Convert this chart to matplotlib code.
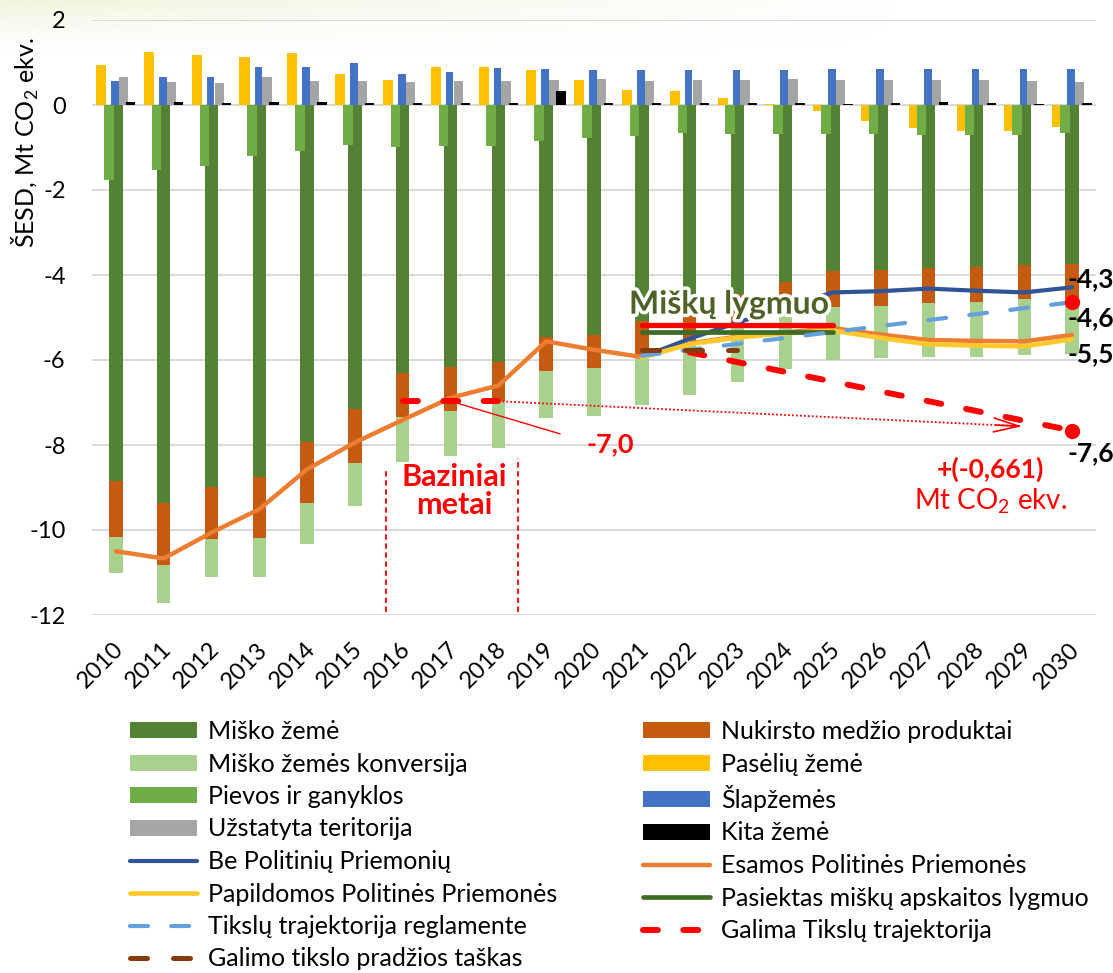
import numpy as np
import matplotlib
matplotlib.use("Agg")
import matplotlib.pyplot as plt
import matplotlib.patheffects as pe
from matplotlib.transforms import ScaledTranslation

plt.rcParams['font.family'] = ['Lato', 'DejaVu Sans']
plt.rcParams['mathtext.fontset'] = 'custom'
plt.rcParams['mathtext.rm'] = 'Lato'
plt.rcParams['mathtext.bf'] = 'Lato:bold'

# ---- data, Mt CO2 ekv. ----
years = list(range(2010, 2031))

# stacked negative columns
misko_zeme = [-8.84, -9.37, -8.98, -8.76, -7.92, -7.15, -6.31, -6.17, -6.05, -5.46, -5.40,
              -5.08, -4.95, -4.45, -4.17, -3.90, -3.88, -3.84, -3.82, -3.76, -3.73]
nukirsto = [-1.32, -1.46, -1.22, -1.42, -1.44, -1.28, -1.04, -1.04, -0.92, -0.81, -0.79,
            -0.86, -0.60, -0.75, -0.73, -0.86, -0.84, -0.83, -0.81, -0.81, -0.84]
konversija = [-0.86, -0.88, -0.90, -0.92, -0.96, -1.00, -1.04, -1.06, -1.10, -1.10, -1.12,
              -1.13, -1.27, -1.31, -1.31, -1.23, -1.24, -1.27, -1.29, -1.32, -1.28]

# single columns
paseliu = [0.94, 1.24, 1.18, 1.14, 1.23, 0.74, 0.59, 0.90, 0.89, 0.83, 0.59,
           0.36, 0.34, 0.17, 0.02, -0.15, -0.38, -0.55, -0.62, -0.62, -0.51]
pievos = [-1.76, -1.54, -1.44, -1.20, -1.09, -0.94, -0.98, -0.96, -0.96, -0.85, -0.78,
          -0.73, -0.67, -0.68, -0.68, -0.68, -0.69, -0.71, -0.70, -0.71, -0.65]
slapzemes = [0.57, 0.66, 0.66, 0.90, 0.89, 0.98, 0.74, 0.77, 0.88, 0.84, 0.83,
             0.83, 0.83, 0.83, 0.83, 0.84, 0.84, 0.84, 0.84, 0.84, 0.85]
uzstatyta = [0.65, 0.54, 0.52, 0.67, 0.57, 0.57, 0.53, 0.56, 0.56, 0.60, 0.61,
             0.57, 0.59, 0.60, 0.62, 0.60, 0.60, 0.60, 0.60, 0.57, 0.53]
kita = [0.06, 0.06, 0.05, 0.06, 0.06, 0.04, 0.04, 0.05, 0.04, 0.34, 0.04,
        0.04, 0.04, 0.04, 0.04, 0.03, 0.04, 0.07, 0.04, 0.03, 0.04]

# lines
esamos = [-10.50, -10.67, -10.06, -9.51, -8.57, -7.94, -7.41, -6.89, -6.60, -5.56, -5.76,
          -5.93, -5.61, -5.45, -5.35, -5.25, -5.40, -5.53, -5.55, -5.56, -5.41]
proj_years = [2021, 2022, 2023, 2024, 2025, 2026, 2027, 2028, 2029, 2030]
be_politiniu = [-5.93, -5.50, -5.12, -4.76, -4.41, -4.38, -4.32, -4.37, -4.41, -4.29]
papildomos = [-5.94, -5.63, -5.47, -5.37, -5.31, -5.48, -5.63, -5.66, -5.68, -5.51]

lygmuo_years = [2021, 2022, 2023, 2024, 2025]
pasiektas = [-5.33, -5.33, -5.33, -5.33, -5.33]
misku_lygmuo = [-5.17, -5.17, -5.17, -5.17, -5.17]

reglamente_years = [2021, 2030]
reglamente = [-5.90, -4.64]

galima_base_years = [2016, 2017, 2018]
galima_base = [-6.97, -6.97, -6.97]
galima_years = [2022, 2030]
galima = [-5.82, -7.66]

pradzios_years = [2021, 2022, 2023]
pradzios = [-5.76, -5.76, -5.76]

end_labels = ['-4,3', '-4,6', '-5,5', '-7,6']
end_label_y = [-4.29, -5.21, -6.04, -8.39]
ytick_vals = [-12, -10, -8, -6, -4, -2, 0, 2]
ytick_labels = ['-12', '-10', '-8', '-6', '-4', '-2', '0', '2']


def idx(ys):
    return [y - years[0] for y in ys]


x = np.arange(len(years))
W, H = 1113, 973
fig = plt.figure(figsize=(W / 100, H / 100), dpi=100)

# faint tint in the top-left corner
bg = fig.add_axes([0, 0, 1, 1], zorder=-10)
yy, xx = np.mgrid[0:H, 0:W]
alpha = np.clip(1 - yy / 55.0, 0, 1) ** 1.5 * np.clip(1 - xx / 900.0, 0, 1) * 0.55
img = np.zeros((H, W, 4))
img[..., 0] = 226 / 255
img[..., 1] = 236 / 255
img[..., 2] = 190 / 255
img[..., 3] = alpha
bg.imshow(img, aspect='auto')
bg.axis('off')

ax = fig.add_axes([92 / W, 1 - 615 / H, (1096 - 92) / W, (615 - 20) / H])
ax.patch.set_alpha(0)

# columns
b_pas = ax.bar(x - 0.31, paseliu, 0.21, color='#FFC000', zorder=2)
b_mz = ax.bar(x, misko_zeme, 0.28, color='#548235', zorder=2)
b_nuk = ax.bar(x, nukirsto, 0.28, bottom=misko_zeme, color='#C55A11', zorder=2)
bottom_conv = [a + b for a, b in zip(misko_zeme, nukirsto)]
b_conv = ax.bar(x, konversija, 0.28, bottom=bottom_conv, color='#A9D18E', zorder=2)
b_piev = ax.bar(x - 0.15, pievos, 0.20, color='#70AD47', zorder=2.5)
b_slap = ax.bar(x - 0.02, slapzemes, 0.16, color='#4472C4', zorder=2)
b_uzs = ax.bar(x + 0.16, uzstatyta, 0.195, color='#A5A5A5', zorder=2)
b_kita = ax.bar(x + 0.31, kita, 0.195, color='#000000', zorder=2)

# lines
rnd = dict(solid_capstyle='round', solid_joinstyle='round')
l_esam, = ax.plot(x, esamos, color='#ED7D31', lw=3.2, zorder=5, **rnd)
l_bep, = ax.plot(idx(proj_years), be_politiniu, color='#2F5597', lw=3.0, zorder=5, **rnd)
l_pap, = ax.plot(idx(proj_years), papildomos, color='#FFC92E', lw=3.4, zorder=5.5, **rnd)
l_pas, = ax.plot(idx(lygmuo_years), pasiektas, color='#3F6B27', lw=3.4, zorder=6, **rnd)
ax.plot(idx(lygmuo_years), misku_lygmuo, color='#FF0000', lw=3.8, zorder=6.5, **rnd)
l_reg, = ax.plot(idx(reglamente_years), reglamente, color='#64A0DC', lw=3.0,
                 linestyle=(0, (4.3, 5.6)), dash_capstyle='round', zorder=7)
l_gal, = ax.plot(idx(galima_base_years), galima_base, color='#FF0000', lw=4.3,
                 linestyle=(0, (2.5, 4.25)), dash_capstyle='round', zorder=7.5)
ax.plot(idx(galima_years), galima, color='#FF0000', lw=4.3,
        linestyle=(0, (2.5, 4.25)), dash_capstyle='round', zorder=7.5)
l_pra, = ax.plot(idx(pradzios_years), pradzios, color='#843C0C', lw=3.6,
                 linestyle=(0, (3.4, 5.2)), dash_capstyle='round', zorder=8)

# end points of the trajectories
ax.plot(idx(reglamente_years)[-1], reglamente[-1], 'o', color='#FF0000', ms=10, zorder=9)
ax.plot(idx(galima_years)[-1], galima[-1], 'o', color='#FF0000', ms=10, zorder=9)

# dotted arrow from base year level
ax.plot([idx(galima_base_years)[-1], 18.95], [galima_base[-1], -7.56], color='#FF0000',
        lw=1.3, linestyle=(0, (1, 1.2)), zorder=6)
ax.annotate('', xy=(18.95, -7.56), xytext=(18.4, -7.53),
            arrowprops=dict(arrowstyle='->,head_length=1.8,head_width=0.5', color='#FF0000',
                            lw=1.2, shrinkA=0, shrinkB=0), zorder=6)

# base years markers
ax.vlines(5.65, -11.93, -8.58, color='#FF0000', lw=1.3, linestyle=(0, (3, 2)), zorder=4)
ax.vlines(8.42, -11.93, -8.30, color='#FF0000', lw=1.3, linestyle=(0, (3, 2)), zorder=4)
ax.text(7.07, -8.96, 'Baziniai', ha='center', va='baseline', fontsize=22,
        fontweight='bold', color='#FF0000', zorder=10)
ax.text(7.07, -9.62, 'metai', ha='center', va='baseline', fontsize=22,
        fontweight='bold', color='#FF0000', zorder=10)
ax.annotate('-7,0', xy=(idx(galima_base_years)[1], galima_base[1]), xytext=(9.85, -8.17),
            ha='left', va='baseline', fontsize=19.5, fontweight='bold', color='#FF0000',
            arrowprops=dict(arrowstyle='-', color='#FF0000', lw=1.0, shrinkA=18, shrinkB=0,
                            relpos=(0, 0.6)), zorder=10)

ax.text(12.83, -4.91, 'Miškų lygmuo', ha='center', va='baseline', fontsize=23,
        fontweight='bold', color='#4F6228', zorder=12,
        path_effects=[pe.withStroke(linewidth=5, foreground='white')])

for lab, yv in zip(end_labels, end_label_y):
    ax.text(19.9, yv, lab, ha='left', va='baseline', fontsize=19, fontweight='bold',
            color='black', zorder=12)

ax.text(18.3, -8.76, '+(-0,661)', ha='center', va='baseline', fontsize=19,
        fontweight='bold', color='#FF0000', zorder=10)
ax.text(18.3, -9.51, 'Mt CO$_2$ ekv.', ha='center', va='baseline', fontsize=20,
        color='#FF0000', zorder=10)

# axes styling
ax.set_xlim(-0.5, len(years) - 0.5)
ax.set_ylim(-12, 2)
ax.set_yticks(ytick_vals)
ax.set_yticklabels(ytick_labels)
ax.set_xticks(x)
ax.set_xticklabels([str(y) for y in years], rotation=45, ha='right', va='top',
                   rotation_mode='anchor')
ax.tick_params(axis='both', length=0, labelsize=17)
ax.tick_params(axis='y', pad=19)
ax.tick_params(axis='x', pad=17)
shift = ScaledTranslation(-3 / 100, 0, fig.dpi_scale_trans)
for lab in ax.get_xticklabels():
    lab.set_transform(lab.get_transform() + shift)
for s in ax.spines.values():
    s.set_visible(False)
ax.set_axisbelow(True)
ax.yaxis.grid(True, color='#D9D9D9', lw=1.4)
ax.set_ylabel('ŠESD, Mt CO$_2$ ekv.', fontsize=18)
ax.yaxis.set_label_coords(-0.051, 0.794)

# legend, two columns
left_h = [b_mz, b_conv, b_piev, b_uzs, l_bep, l_pap, l_reg, l_pra]
left_l = ['Miško žemė', 'Miško žemės konversija', 'Pievos ir ganyklos',
          'Užstatyta teritorija', 'Be Politinių Priemonių', 'Papildomos Politinės Priemonės',
          'Tikslų trajektorija reglamente', 'Galimo tikslo pradžios taškas']
right_h = [b_nuk, b_pas, b_slap, b_kita, l_esam, l_pas, l_gal]
right_l = ['Nukirsto medžio produktai', 'Pasėlių žemė', 'Šlapžemės', 'Kita žemė',
           'Esamos Politinės Priemonės', 'Pasiektas miškų apskaitos lygmuo',
           'Galima Tikslų trajektorija']
leg_kw = dict(loc='upper left', frameon=False, fontsize=18, handlelength=2.68,
              handleheight=0.6, handletextpad=0.45, labelspacing=0.38, borderpad=0,
              borderaxespad=0)
fig.legend(left_h, left_l, bbox_to_anchor=(130 / W, 1 - 720 / H), **leg_kw)
fig.legend(right_h, right_l, bbox_to_anchor=(643 / W, 1 - 720 / H), **leg_kw)

fig.savefig('out.png', dpi=100)
